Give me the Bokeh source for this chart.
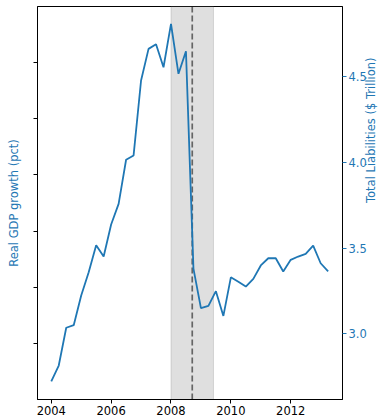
import numpy as np
from bokeh.plotting import figure
from bokeh.models import (LinearAxis, Range1d, FixedTicker, PrintfTickFormatter,
                          BoxAnnotation, Span)
from bokeh.embed import file_html
from bokeh.resources import INLINE

# quarterly dates 2004Q1 .. 2013Q2
years = [2004 + 0.25 * i for i in range(38)]
liabilities = [2.724, 2.816, 3.036, 3.051, 3.224, 3.360, 3.517, 3.451, 3.638, 3.758,
               4.015, 4.040, 4.477, 4.661, 4.688, 4.554, 4.807, 4.516, 4.647, 3.381,
               3.150, 3.164, 3.249, 3.105, 3.330, 3.304, 3.276, 3.321, 3.399, 3.441,
               3.441, 3.364, 3.432, 3.451, 3.467, 3.515, 3.412, 3.365]
x_ticks = [2004, 2006, 2008, 2010, 2012]
liab_ticks = [3.0, 3.5, 4.0, 4.5]
gdp_ticks = [-8, -6, -4, -2, 0, 2]
recession = (2008.0, 2009.42)
lehman = 2008.71

BLUE = "#1f77b4"
FONT = "DejaVu Sans"

p = figure(width=388, height=419, output_backend="svg", toolbar_location=None,
           x_range=Range1d(2003.54, 2013.73), y_range=Range1d(-10, 4),
           min_border_left=37, min_border_right=46, min_border_top=6,
           min_border_bottom=20)
p.extra_y_ranges = {"liab": Range1d(2.618, 4.908)}

p.xgrid.grid_line_color = None
p.ygrid.grid_line_color = None
p.outline_line_color = "black"
p.outline_line_alpha = 1
p.background_fill_color = "white"

# shaded recession and dashed line
p.add_layout(BoxAnnotation(left=recession[0], right=recession[1], fill_color="gray",
                           fill_alpha=0.25, line_color="gray", line_alpha=0.25,
                           line_width=1, level="underlay"))
p.add_layout(Span(location=lehman, dimension="height", line_color="black",
                  line_alpha=0.55, line_dash="6 3", line_width=1.7, level="underlay"))

p.line(years, liabilities, line_color=BLUE, line_width=1.8, y_range_name="liab")

# bottom axis
xa = p.xaxis[0]
xa.ticker = FixedTicker(ticks=x_ticks)
xa.minor_tick_line_color = None
xa.major_tick_out = 4
xa.major_tick_in = 0
xa.major_label_standoff = 2
xa.major_label_text_font = FONT
xa.major_label_text_font_size = "11.5px"
xa.major_label_text_color = "black"
xa.axis_line_color = "black"

# left axis (labels cut off in reference)
ya = p.yaxis[0]
ya.ticker = FixedTicker(ticks=gdp_ticks)
ya.major_label_overrides = {t: "" for t in gdp_ticks}
ya.minor_tick_line_color = None
ya.major_tick_out = 4
ya.major_tick_in = 0
ya.major_label_standoff = 0
ya.axis_label = "Real GDP growth (pct)"
ya.axis_label_text_color = BLUE
ya.axis_label_text_font = FONT
ya.axis_label_text_font_size = "11.5px"
ya.axis_label_text_font_style = "normal"
ya.axis_label_standoff = 13

# right axis
ra = LinearAxis(y_range_name="liab", ticker=FixedTicker(ticks=liab_ticks),
                formatter=PrintfTickFormatter(format="%.1f"))
ra.minor_tick_line_color = None
ra.major_tick_out = 4
ra.major_tick_in = 0
ra.major_tick_line_color = BLUE
ra.major_label_standoff = 2
ra.major_label_text_color = BLUE
ra.major_label_text_font = FONT
ra.major_label_text_font_size = "11.5px"
ra.axis_line_color = "black"
ra.axis_label = "Total Liabilities ($ Trillion)"
ra.axis_label_text_color = BLUE
ra.axis_label_text_font = FONT
ra.axis_label_text_font_size = "11.5px"
ra.axis_label_text_font_style = "normal"
ra.axis_label_standoff = 1
if hasattr(ra, "axis_label_orientation"):
    ra.axis_label_orientation = np.pi / 2
p.add_layout(ra, "right")

open("out.html", "w").write(file_html(p, INLINE))
